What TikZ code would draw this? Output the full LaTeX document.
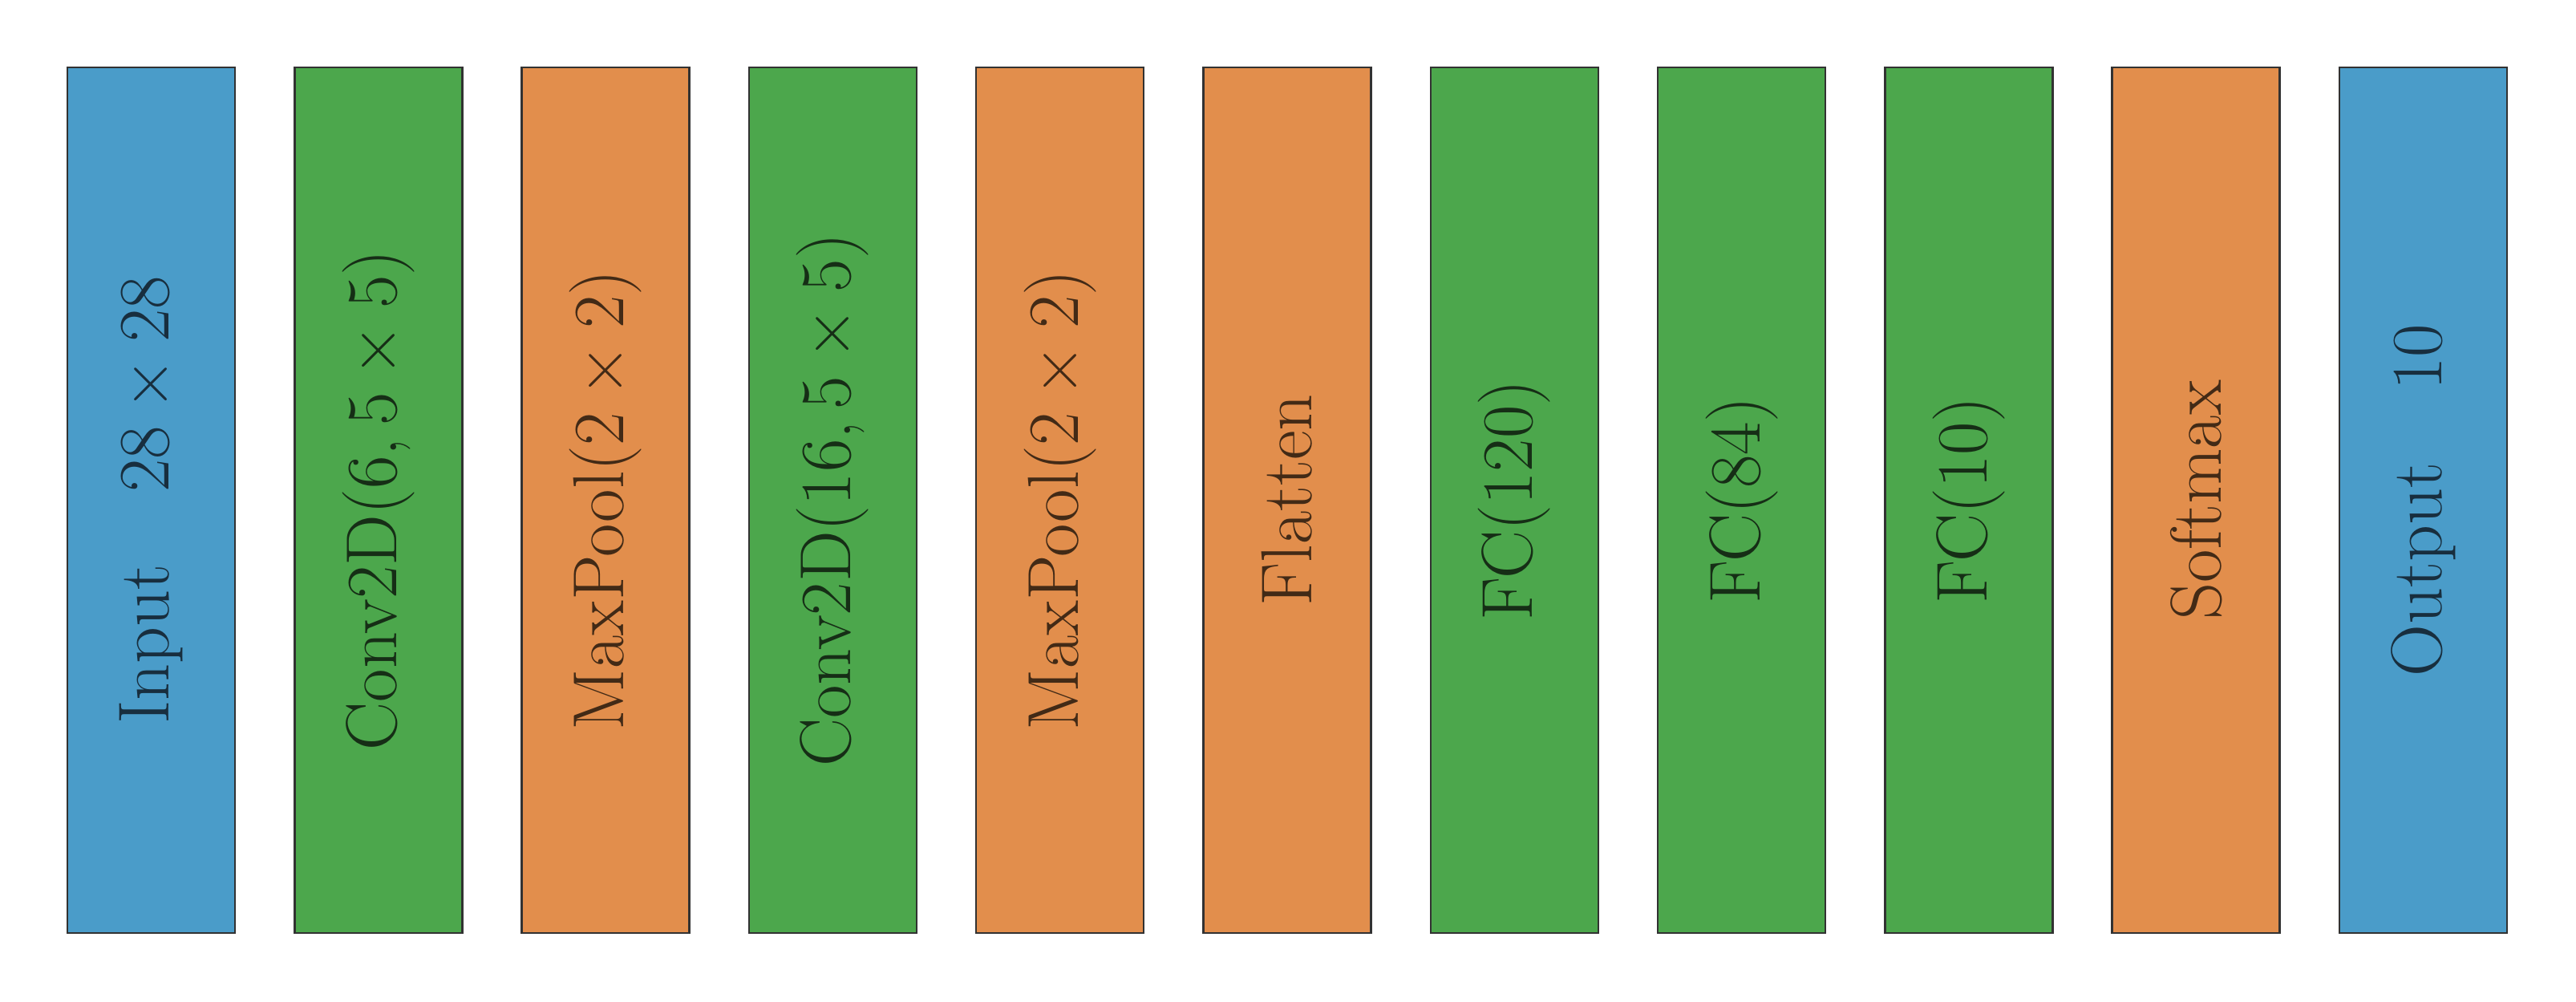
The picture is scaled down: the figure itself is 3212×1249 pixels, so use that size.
\documentclass[tikz,border=0pt]{standalone}
\usepackage{fontspec}
\setmainfont{Latin Modern Roman}
\definecolor{bfill}{RGB}{74,156,201}
\definecolor{gfill}{RGB}{76,167,76}
\definecolor{ofill}{RGB}{226,142,76}
\definecolor{btext}{RGB}{24,46,62}
\definecolor{gtext}{RGB}{22,46,22}
\definecolor{otext}{RGB}{66,42,22}
\definecolor{edge}{RGB}{50,50,50}
\newcommand{\tms}{\hspace{0.22em}×\hspace{0.22em}}
\newcommand{\cma}{,\hspace{0.17em}}
\begin{document}
\begin{tikzpicture}[x=1pt,y=1pt,
  layer/.style={draw=edge,line width=2.5pt,minimum width=209pt,minimum height=1079pt,inner sep=0pt,anchor=center},
  lbl/.style={rotate=90,font=\fontsize{90}{90}\selectfont},
  bl/.style={layer,fill=bfill},
  gl/.style={layer,fill=gfill},
  ol/.style={layer,fill=ofill}]
\useasboundingbox (0,0) rectangle (3212,1249);
\def\pitch{283.3}
\foreach \i/\st/\tc/\txt [count=\k from 0] in {
  inp/bl/btext/{Input\quad 28\tms 28},
  cA/gl/gtext/{Conv2D(6\cma 5\tms 5)},
  pA/ol/otext/{MaxPool(2\tms 2)},
  cB/gl/gtext/{Conv2D(16\cma 5\tms 5)},
  pB/ol/otext/{MaxPool(2\tms 2)},
  fl/ol/otext/{Flatten},
  fA/gl/gtext/{FC(120)},
  fB/gl/gtext/{FC(84)},
  fC/gl/gtext/{FC(10)},
  sm/ol/otext/{Softmax},
  out/bl/btext/{Output\quad 10}}
{
  \node[\st] (\i) at ({84+104.5+\k*\pitch},{1249-623.5}) {};
  \node[lbl,text=\tc] (\i-t) at (\i.center) {\txt};
}
\end{tikzpicture}
\end{document}
